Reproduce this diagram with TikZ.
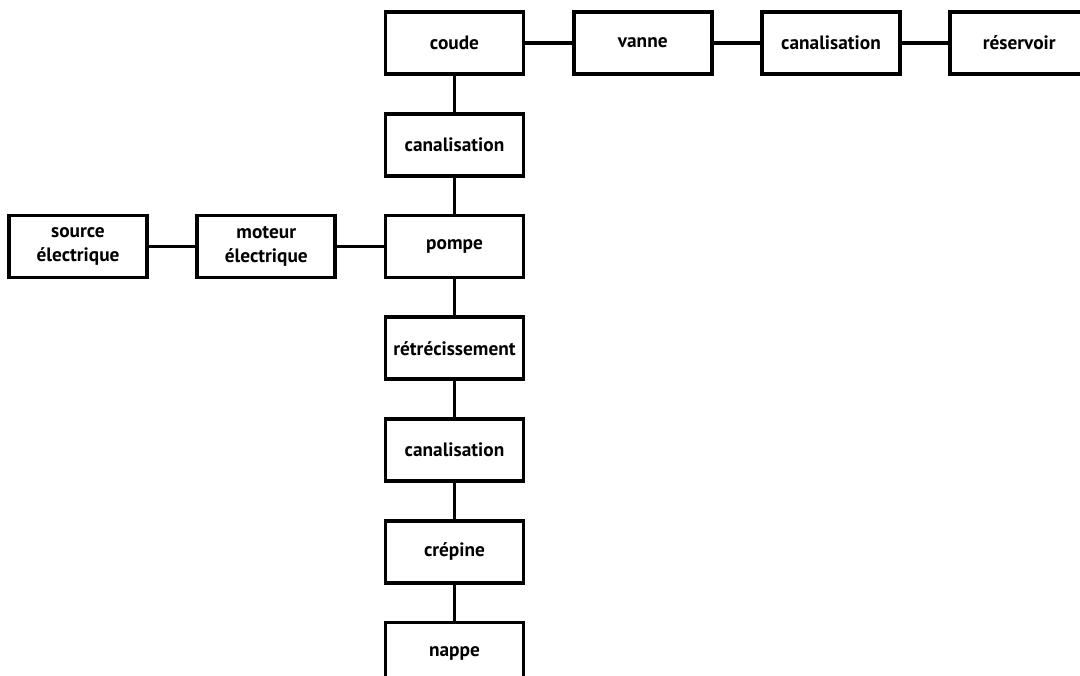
\documentclass[tikz,border=0pt]{standalone}
\usepackage{fontspec}
\setmainfont{PT Sans}
\usetikzlibrary{positioning}
\begin{document}
\begin{tikzpicture}
                    [el/.style={rectangle,
                        draw=black, line width=0.075cm,
                        minimum width=2.76cm, minimum height=1.24cm,
                        align=center, inner sep=2pt,
                        font=\bfseries\fontsize{11}{13.5}\selectfont},
                    ln/.style={line width=0.075cm},
                    node distance=0.72cm and 0.93cm]

                    \clip (0,0) rectangle (21.6,-13.52);

                    \node[el] (coude) at (9.09,-0.86)
                        {coude};
                    \node[el, right=of coude]
                        (vanne) {vanne};
                    \node[el, right=of vanne]
                        (can1) {canalisation};
                    \node[el, right=of can1]
                        (res) {réservoir};
                    \node[el, below=of coude]
                        (can2) {canalisation};
                    \node[el, below=of can2]
                        (pompe) {pompe};
                    \node[el, left=of pompe]
                        (mot) {moteur\\électrique};
                    \node[el, left=of mot]
                        (src) {source\\électrique};
                    \node[el, below=of pompe]
                        (retr) {rétrécissement};
                    \node[el, below=of retr]
                        (can3) {canalisation};
                    \node[el, below=of can3]
                        (crep) {crépine};
                    \node[el, below=of crep]
                        (nappe) {nappe};

                    \draw[ln] (coude) -- (vanne);
                    \draw[ln] (vanne) -- (can1);
                    \draw[ln] (can1) -- (res);
                    \draw[ln] (coude) -- (can2);
                    \draw[ln] (can2) -- (pompe);
                    \draw[ln] (src) -- (mot);
                    \draw[ln] (mot) -- (pompe);
                    \draw[ln] (pompe) -- (retr);
                    \draw[ln] (retr) -- (can3);
                    \draw[ln] (can3) -- (crep);
                    \draw[ln] (crep) -- (nappe);
                \end{tikzpicture}
\end{document}
